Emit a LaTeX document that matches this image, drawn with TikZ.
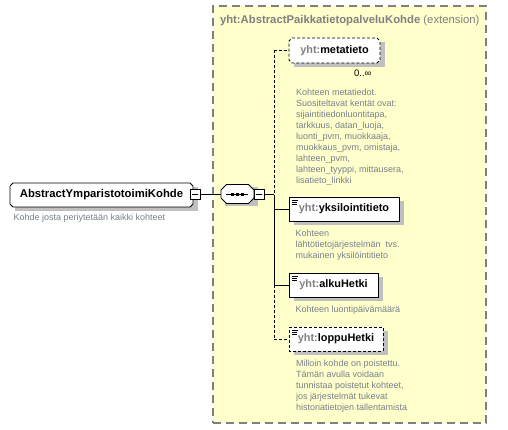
\documentclass[tikz,border=0pt]{standalone}
\usepackage{fontspec}
\setmainfont{Liberation Sans}
\definecolor{extfill}{RGB}{255,255,204}
\definecolor{extline}{RGB}{128,128,128}
\definecolor{prefixcol}{RGB}{128,128,128}
\definecolor{desccol}{RGB}{120,128,140}
\definecolor{shadecol}{RGB}{192,192,192}
\newcommand{\pfx}[1]{\textcolor{prefixcol}{#1}}
\pgfdeclarelayer{extlayer}
\pgfdeclarelayer{shadowlayer}
\pgfdeclarelayer{shapelayer}
\pgfsetlayers{extlayer,shadowlayer,shapelayer,main}
% chamfered outline round a named node: #1 node, #2 chamfer, #3 style
\newcommand{\chambox}[3]{%
  \draw[#3] ([xshift=#2]#1.north west) -- ([xshift=-#2]#1.north east)
    -- ([yshift=-#2]#1.north east) -- ([yshift=#2]#1.south east)
    -- ([xshift=-#2]#1.south east) -- ([xshift=#2]#1.south west)
    -- ([yshift=#2]#1.south west) -- ([yshift=-#2]#1.north west) -- cycle;}
% drop shadow of a named node: #1 node, #2 xshift, #3 yshift
\newcommand{\shadebox}[3]{%
  \fill[shadecol] ([shift={(#2,-#3)}]#1.south west) rectangle ([shift={(#2,-#3)}]#1.north east);}
\begin{document}
\begin{tikzpicture}[x=1pt,y=-1pt,
  every node/.style={inner sep=0pt, outer sep=0pt},
  extbox/.style={draw=extline, fill=extfill, line width=1.5pt, dash pattern=on 8pt off 5pt},
  elem/.style={minimum height=24pt, font=\fontsize{10.9}{13}\selectfont\bfseries},
  outline/.style={draw=black, line width=0.9pt, fill=white},
  optional/.style={dash pattern=on 3pt off 2pt},
  minusbox/.style={draw=black, line width=0.8pt, fill=white, minimum size=10pt,
    path picture={\draw[line width=0.8pt] ([xshift=-3pt]path picture bounding box.center) -- ([xshift=3pt]path picture bounding box.center);}},
  desc/.style={anchor=north west, align=left, text=desccol, font=\fontsize{9}{11}\selectfont},
  conn/.style={line width=0.9pt, black},
  icon/.style={line width=0.8pt, black}
]
\useasboundingbox (0,0) rectangle (508,430);

% extension box
\begin{pgfonlayer}{extlayer}
\node[extbox, minimum width=273pt, minimum height=417pt, anchor=north west] (ext) at (213,6) {};
\end{pgfonlayer}
\node[anchor=north west, text=prefixcol, font=\fontsize{11.3}{13}\selectfont] (exttitle) at (220,15)
  {\textbf{yht:AbstractPaikkatietopalveluKohde} (extension)};

% root element
\node[elem, font=\fontsize{11.3}{13}\selectfont\bfseries, minimum width=183pt, anchor=west] (root) at (10,195) {AbstractYmparistotoimiKohde};
\node[minusbox] (rootminus) at (195,194.5) {};
\node[desc] (rootdesc) at (13.5,214.3) {Kohde josta periytetään kaikki kohteet};

% sequence compositor
\node[minimum width=33pt, minimum height=19pt] (seq) at (237.5,194) {};
\draw[line width=1pt] ([xshift=-12pt,yshift=-1pt]seq.center) -- ([xshift=10pt,yshift=-1pt]seq.center);
\foreach \dx in {-5,0,5}
  \fill ([xshift=\dx pt - 1.5pt, yshift=-2.5pt]seq.center) rectangle ++(3,-3);
\node[minusbox] (seqminus) at (259,194.5) {};

% backbone points
\coordinate (bm) at (274,50.5);
\coordinate (bs) at (274,195);
\coordinate (by) at (274,209);
\coordinate (ba) at (274,285);
\coordinate (bl) at (274,339);

% children
\node[elem, minimum width=91pt, minimum height=25pt, anchor=west] (meta) at (289,50.5) {\pfx{yht:}metatieto};
\node[elem, minimum width=110pt, anchor=west] (yksi) at (289,209) {\pfx{yht:}yksilointitieto};
\node[elem, minimum width=89pt, anchor=west] (alku) at (289,285) {\pfx{yht:}alkuHetki};
\node[elem, minimum width=94pt, anchor=west] (loppu) at (289,339) {\pfx{yht:}loppuHetki};

\node[anchor=north east, font=\fontsize{9.5}{11}\selectfont] (metaocc) at (371.5,70) {0..∞};

% outlines and shadows
\begin{pgfonlayer}{shadowlayer}
\shadebox{root}{5pt}{4pt}
\shadebox{seq}{4pt}{3pt}
\shadebox{meta}{5pt}{4pt}
\shadebox{yksi}{5pt}{4pt}
\shadebox{alku}{5pt}{4pt}
\shadebox{loppu}{5pt}{4pt}
\end{pgfonlayer}
\begin{pgfonlayer}{shapelayer}
\chambox{root}{3pt}{outline}
\chambox{seq}{5.5pt}{outline}
\chambox{meta}{3pt}{outline, optional}
\chambox{yksi}{0pt}{outline}
\chambox{alku}{0pt}{outline}
\chambox{loppu}{0pt}{outline, optional}
\end{pgfonlayer}

% simple-content icons
\foreach \n in {yksi,alku,loppu}{
  \draw[icon] ([shift={(2.5,3)}]\n.north west) -- ++(6.5,0);
  \draw[icon] ([shift={(2.5,5)}]\n.north west) -- ++(5,0);
  \draw[icon] ([shift={(2.5,7)}]\n.north west) -- ++(5,0);
}

% connectors
\draw[conn] (rootminus.east) -- (seq.west |- rootminus.east);
\draw[conn] (seqminus.east) -- (bs |- seqminus.east);
\draw[conn, optional] (bm) -- (meta.west);
\draw[conn, optional] (bm) -- (bs);
\draw[conn] (bs) -- (ba);
\draw[conn] (by) -- (yksi.west);
\draw[conn] (ba) -- (alku.west);
\draw[conn, optional] (ba) -- (bl);
\draw[conn, optional] (bl) -- (loppu.west);

% descriptions
\node[desc] (metadesc) at (296,89.3) {Kohteen metatiedot.\\Suositeltavat kentät ovat:\\sijaintitiedonluontitapa,\\tarkkuus, datan\_luoja,\\luonti\_pvm, muokkaaja,\\muokkaus\_pvm, omistaja,\\lahteen\_pvm,\\lahteen\_tyyppi, mittausera,\\lisatieto\_linkki};
\node[desc] (yksidesc) at (295.5,230) {Kohteen\\lähtötietojärjestelmän\ \ tvs.\\mukainen yksilöintitieto};
\node[desc] (alkudesc) at (295.5,305.5) {Kohteen luontipäivämäärä};
\node[desc] (loppudesc) at (296,360) {Milloin kohde on poistettu.\\Tämän avulla voidaan\\tunnistaa poistetut kohteet,\\jos järjestelmät tukevat\\historiatietojen tallentamista};
\end{tikzpicture}
\end{document}
